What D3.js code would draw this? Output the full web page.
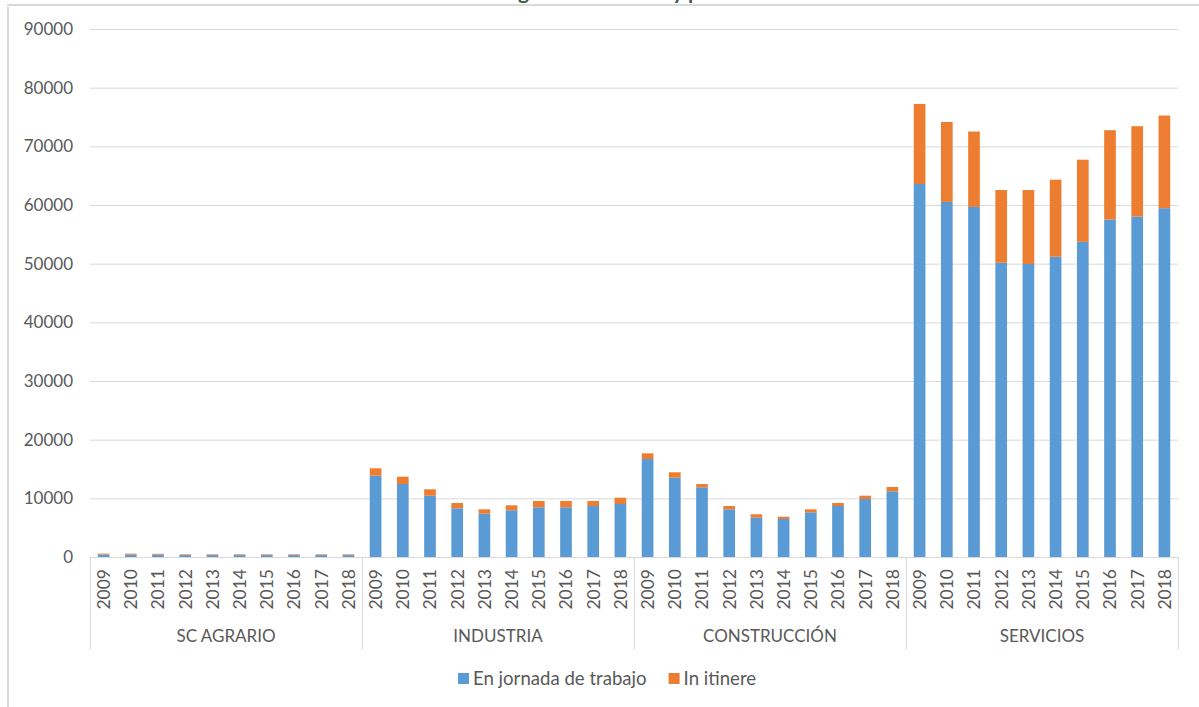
<!DOCTYPE html>
<html>
<head>
<meta charset="utf-8">
<script src="https://cdn.jsdelivr.net/npm/d3@7"></script>
<style>
  html, body { margin: 0; padding: 0; background: #fff; }
  svg { display: block; font-family: Lato, "Open Sans", sans-serif; }
</style>
</head>
<body>
<svg id="chart" width="1199" height="707"></svg>
<script>
// Accidentes por sector y año: en jornada de trabajo / in itinere
const sectors = ["SC AGRARIO", "INDUSTRIA", "CONSTRUCCIÓN", "SERVICIOS"];
const years = ["2009", "2010", "2011", "2012", "2013", "2014", "2015", "2016", "2017", "2018"];

const jornadaAgrario      = [420, 420, 400, 330, 330, 330, 330, 330, 330, 330];
const itinereAgrario      = [160, 160, 150, 120, 120, 120, 120, 120, 120, 120];
const jornadaIndustria    = [13860, 12440, 10450, 8300, 7380, 7960, 8470, 8470, 8690, 9030];
const itinereIndustria    = [1260, 1250, 1090, 900, 750, 850, 1070, 1070, 850, 1080];
const jornadaConstruccion = [16700, 13520, 11880, 8130, 6700, 6480, 7620, 8690, 9890, 11200];
const itinereConstruccion = [970, 920, 560, 560, 580, 390, 510, 510, 560, 730];
const jornadaServicios    = [63580, 60520, 59670, 50160, 49940, 51180, 53720, 57520, 58030, 59450];
const itinereServicios    = [13650, 13640, 12850, 12390, 12610, 13130, 14000, 15230, 15400, 15800];

const yTicks = [0, 10000, 20000, 30000, 40000, 50000, 60000, 70000, 80000, 90000];
const seriesNames = ["En jornada de trabajo", "In itinere"];
const seriesColors = ["#5b9bd5", "#ed7d31"];
const titleText = "Accidentes según los sectores y periodo";

const jornadaBySector = [jornadaAgrario, jornadaIndustria, jornadaConstruccion, jornadaServicios];
const itinereBySector = [itinereAgrario, itinereIndustria, itinereConstruccion, itinereServicios];

// flat table: one row per sector/year
const rows = [];
sectors.forEach((s, si) => {
  years.forEach((yr, yi) => {
    rows.push({ key: s + "|" + yr, sector: s, year: yr,
                jornada: jornadaBySector[si][yi], itinere: itinereBySector[si][yi] });
  });
});

const svg = d3.select("#chart");
const textColor = "#595959";
const gridColor = "#d9d9d9";

const plotLeft = 90, plotRight = 1178, plotTop = 29, plotBottom = 557;

const x = d3.scaleBand().domain(rows.map(d => d.key)).range([plotLeft, plotRight])
  .paddingInner(0.57).paddingOuter(0.285);
const y = d3.scaleLinear().domain([0, 90000]).range([plotBottom, plotTop]);

// frame (title band runs above the visible area)
svg.append("line").attr("x1", 8).attr("x2", 8).attr("y1", 5).attr("y2", 707)
  .attr("stroke", gridColor).attr("stroke-width", 2);
const title = svg.append("text").attr("y", -1)
  .attr("font-size", 21).attr("font-weight", "bold").attr("fill", "#3d5c4b")
  .text(titleText);
const gIndex = titleText.indexOf("g");
const preW = title.node().getSubStringLength(0, gIndex);
title.attr("x", 518 - preW);
svg.append("rect").attr("x", 0).attr("y", 5).attr("width", 1199).attr("height", 2).attr("fill", "#fff");
svg.append("line").attr("x1", 7).attr("x2", 1199).attr("y1", 5).attr("y2", 5)
  .attr("stroke", gridColor).attr("stroke-width", 2);

// gridlines and value labels
const yAxis = svg.append("g").attr("transform", `translate(${plotLeft},0)`)
  .call(d3.axisLeft(y).tickValues(yTicks).tickSize(-(plotRight - plotLeft)).tickPadding(17)
    .tickFormat(d3.format("d")));
yAxis.select(".domain").remove();
yAxis.selectAll(".tick line").attr("stroke", gridColor).attr("stroke-width", 1);
yAxis.selectAll(".tick text").attr("fill", textColor).attr("font-size", 17)
  .attr("font-family", "Lato, sans-serif");

// stacked bars
const stack = d3.stack().keys(["jornada", "itinere"]);
const stacked = stack(rows);
svg.append("g").selectAll("g").data(stacked).join("g")
  .attr("fill", (d, i) => seriesColors[i])
  .selectAll("rect").data(d => d).join("rect")
  .attr("x", d => x(d.data.key))
  .attr("width", x.bandwidth())
  .attr("y", d => y(d[1]))
  .attr("height", d => y(d[0]) - y(d[1]));

// category axis
svg.append("line").attr("x1", plotLeft).attr("x2", plotRight)
  .attr("y1", plotBottom + 0.5).attr("y2", plotBottom + 0.5)
  .attr("stroke", gridColor).attr("stroke-width", 1);

const groupW = (plotRight - plotLeft) / sectors.length;
d3.range(sectors.length + 1).forEach(i => {
  const gx = Math.round(plotLeft + i * groupW) + 0.5;
  svg.append("line").attr("x1", gx).attr("x2", gx).attr("y1", plotBottom).attr("y2", 649)
    .attr("stroke", gridColor).attr("stroke-width", 1);
});

svg.append("g").selectAll("text").data(rows).join("text")
  .attr("transform", d => `translate(${x(d.key) + x.bandwidth() / 2},569) rotate(-90)`)
  .attr("text-anchor", "end").attr("dy", "0.36em")
  .attr("font-size", 17.5).attr("fill", textColor)
  .text(d => d.year);

svg.append("g").selectAll("text").data(sectors).join("text")
  .attr("x", (d, i) => plotLeft + (i + 0.5) * groupW)
  .attr("y", 642).attr("text-anchor", "middle")
  .attr("font-size", 17).attr("fill", textColor)
  .text(d => d);

// legend
const legend = svg.append("g");
let lx = 458;
seriesNames.forEach((name, i) => {
  legend.append("rect").attr("x", lx).attr("y", 673).attr("width", 11).attr("height", 11)
    .attr("fill", seriesColors[i]);
  const t = legend.append("text").attr("x", lx + 15).attr("y", 685)
    .attr("font-size", 18.6).attr("fill", textColor).text(name);
  lx = lx + 15 + t.node().getComputedTextLength() + 22;
});
</script>
</body>
</html>
